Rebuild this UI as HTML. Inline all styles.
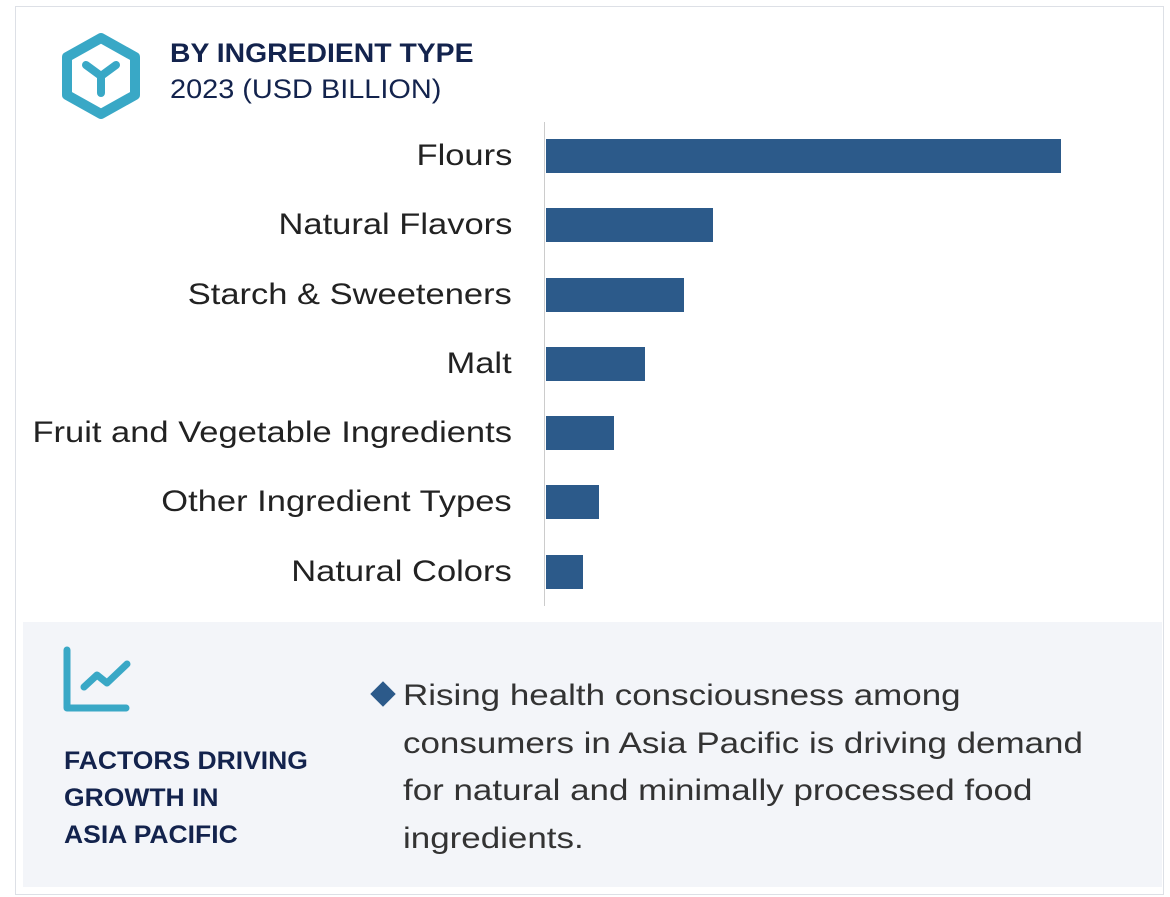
<!DOCTYPE html>
<html><head><style>
body{margin:0;width:1170px;height:897px;background:#fff;font-family:"Liberation Sans",sans-serif;position:relative;overflow:hidden}
.a{position:absolute}
.lab{position:absolute;right:658px;font-size:30px;color:#222;white-space:nowrap;line-height:34px;transform:scaleX(1.15);transform-origin:right center}
.bar{position:absolute;left:546px;height:34px;background:#2c5a8a}
</style></head><body>
<div class="a" style="left:15px;top:6px;width:1149px;height:889px;border:1px solid #dde0e6;box-sizing:border-box"></div>
<svg class="a" style="left:60px;top:32px" width="82" height="88" viewBox="0 0 82 88">
<polygon points="41,6 75,25 75,63 41,82 7,63 7,25" fill="none" stroke="#39a8c6" stroke-width="10" stroke-linejoin="round"/>
<path d="M26,33 L41,44 L56,33 M41,44 L41,61" fill="none" stroke="#39a8c6" stroke-width="8" stroke-linecap="round"/>
</svg>
<div class="a" style="left:170px;top:38px;font-size:27px;font-weight:bold;color:#13234d;transform:scaleX(1.05);transform-origin:left">BY INGREDIENT TYPE</div>
<div class="a" style="left:170px;top:74px;font-size:27px;color:#13234d;transform:scaleX(1.07);transform-origin:left">2023 (USD BILLION)</div>
<div class="a" style="left:544px;top:122px;width:1px;height:484px;background:#ccc"></div>
<div class="lab" style="top:139px">Flours</div><div class="bar" style="top:139px;width:515px"></div>
<div class="lab" style="top:208px">Natural Flavors</div><div class="bar" style="top:208px;width:167px"></div>
<div class="lab" style="top:278px">Starch &amp; Sweeteners</div><div class="bar" style="top:278px;width:138px"></div>
<div class="lab" style="top:347px">Malt</div><div class="bar" style="top:347px;width:99px"></div>
<div class="lab" style="top:416px">Fruit and Vegetable Ingredients</div><div class="bar" style="top:416px;width:68px"></div>
<div class="lab" style="top:485px">Other Ingredient Types</div><div class="bar" style="top:485px;width:53px"></div>
<div class="lab" style="top:555px">Natural Colors</div><div class="bar" style="top:555px;width:37px"></div>
<div class="a" style="left:23px;top:622px;width:1139px;height:265px;background:#f3f5f9"></div>
<svg class="a" style="left:60px;top:644px" width="72" height="70" viewBox="0 0 72 70">
<path d="M7,6 L7,64 L66,64" fill="none" stroke="#39a8c6" stroke-width="7" stroke-linecap="round" stroke-linejoin="round"/>
<path d="M24,43 L37,31 L47,39 L67,20" fill="none" stroke="#39a8c6" stroke-width="7" stroke-linecap="round" stroke-linejoin="round"/>
</svg>
<div class="a" style="left:64px;top:743px;font-size:25px;font-weight:bold;color:#13234d;line-height:37px;transform:scaleX(1.06);transform-origin:left;white-space:nowrap">FACTORS DRIVING<br>GROWTH IN<br>ASIA PACIFIC</div>
<div class="a" style="left:370px;top:681px;width:26px;height:26px"><div style="width:18px;height:18px;background:#2c5a8a;transform:rotate(45deg);margin:4px"></div></div>
<div class="a" style="left:403px;top:672px;font-size:30px;color:#333;line-height:47.5px;white-space:nowrap;transform:scaleX(1.165);transform-origin:left">Rising health consciousness among<br>consumers in Asia Pacific is driving demand<br>for natural and minimally processed food<br>ingredients.</div>
</body></html>
